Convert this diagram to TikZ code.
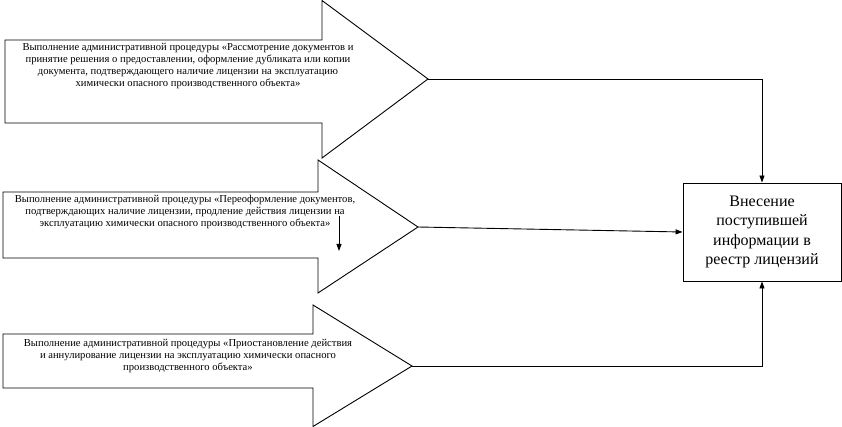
\documentclass[tikz,border=0pt]{standalone}
\usepackage{fontspec}
\setmainfont{Liberation Serif}
\usetikzlibrary{arrows.meta}
\tikzset{
  bigarrow/.style={draw=black, line width=0.9pt, fill=white},
  proctext/.style={align=center, font=\fontsize{10.6}{12.3}\selectfont, inner sep=0pt},
  regbox/.style={draw=black, line width=0.9pt, minimum width=158pt, minimum height=98pt, align=center, font=\fontsize{16}{19.5}\selectfont, inner sep=0pt},
  conn/.style={line width=0.9pt, -{Triangle[length=7pt,width=5pt]}}
}
\begin{document}
\begin{tikzpicture}[x=1pt,y=-1pt]
\useasboundingbox (0,0) rectangle (842,427);
% big arrow 1
\draw[bigarrow] (5,40) -- (322,40) -- (322,0.5) -- (428,79) coordinate (t1) -- (322,158) -- (322,123) -- (5,123) -- cycle;
% big arrow 2
\draw[bigarrow] (3,192) -- (318,192) -- (318,160) -- (418,227) coordinate (t2) -- (318,293) -- (318,258) -- (3,258) -- cycle;
% big arrow 3
\draw[bigarrow] (3,334) -- (313,334) -- (313,305) -- (412,366) coordinate (t3) -- (313,426.5) -- (313,388) -- (3,388) -- cycle;
% texts
\node[proctext] (p1) at (188,66) {Выполнение административной процедуры «Рассмотрение документов и\\принятие решения о предоставлении, оформление дубликата или копии\\документа, подтверждающего наличие лицензии на эксплуатацию\\химически опасного производственного объекта»};
\node[proctext] (p2) at (185,212) {Выполнение административной процедуры «Переоформление документов,\\подтверждающих наличие лицензии, продление действия лицензии на\\эксплуатацию химически опасного производственного объекта»};
\node[proctext] (p3) at (188,356) {Выполнение административной процедуры «Приостановление действия\\и аннулирование лицензии на эксплуатацию химически опасного\\производственного объекта»};
% register box
\node[regbox] (box) at (762,232) {Внесение\\поступившей\\информации в\\реестр лицензий};
% connectors
\draw[conn] (t1) -| (box.north);
\draw[conn] (t2) -- (box.west);
\draw[conn] (t3) -| (box.south);
% small arrow inside arrow 2
\coordinate (sa) at (339,216);
\coordinate (sb) at (339,251);
\draw[conn] (sa) -- (sb);
\end{tikzpicture}
\end{document}
